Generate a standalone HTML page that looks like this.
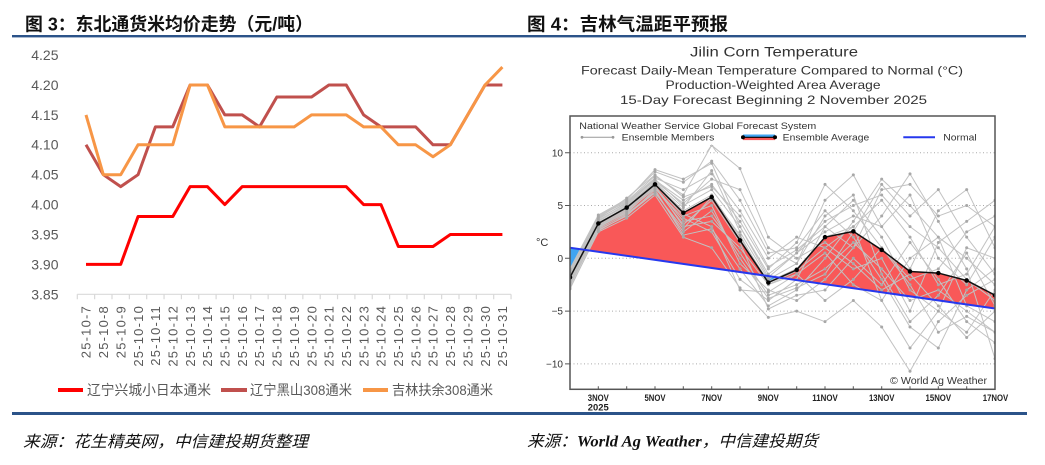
<!DOCTYPE html>
<html><head><meta charset="utf-8">
<style>
html,body{margin:0;padding:0;background:#fff;}
body{width:1045px;height:465px;overflow:hidden;}
svg{display:block;}
.cjk{font-family:"Liberation Sans","Noto Sans CJK SC",sans-serif;}
.lat{font-family:"Liberation Sans",sans-serif;}
</style></head><body>
<svg width="1045" height="465" viewBox="0 0 1045 465" xmlns="http://www.w3.org/2000/svg">
<defs>
<clipPath id="pc"><rect x="570" y="116" width="425" height="273.3"/></clipPath>
</defs>
<rect width="1045" height="465" fill="#fff"/>

<!-- Titles -->
<text class="cjk" x="25" y="30.5" font-size="18" font-weight="bold" fill="#111" textLength="288" lengthAdjust="spacingAndGlyphs">图 3：东北通货米均价走势（元/吨）</text>
<text class="cjk" x="527" y="30.5" font-size="18" font-weight="bold" fill="#111" textLength="201" lengthAdjust="spacingAndGlyphs">图 4：吉林气温距平预报</text>

<!-- separator lines -->
<rect x="12" y="35" width="1014" height="2.4" fill="#2B5389"/>
<rect x="12" y="412" width="1015" height="3" fill="#2B5389"/>

<!-- ================= LEFT CHART ================= -->
<g class="lat" font-size="14" fill="#595959" text-anchor="end">
<text x="58.5" y="60">4.25</text>
<text x="58.5" y="89.9">4.20</text>
<text x="58.5" y="119.8">4.15</text>
<text x="58.5" y="149.7">4.10</text>
<text x="58.5" y="179.6">4.05</text>
<text x="58.5" y="209.5">4.00</text>
<text x="58.5" y="239.4">3.95</text>
<text x="58.5" y="269.4">3.90</text>
<text x="58.5" y="299.3">3.85</text>
</g>
<line x1="77.3" y1="294.3" x2="511" y2="294.3" stroke="#D9D9D9" stroke-width="1.2"/>
<path d="M77.3 294.3v5M94.65 294.3v5M112 294.3v5M129.35 294.3v5M146.7 294.3v5M164.05 294.3v5M181.4 294.3v5M198.75 294.3v5M216.1 294.3v5M233.45 294.3v5M250.8 294.3v5M268.15 294.3v5M285.5 294.3v5M302.85 294.3v5M320.2 294.3v5M337.55 294.3v5M354.9 294.3v5M372.25 294.3v5M389.6 294.3v5M406.95 294.3v5M424.3 294.3v5M441.65 294.3v5M459 294.3v5M476.35 294.3v5M493.7 294.3v5M511.05 294.3v5" stroke="#D9D9D9" stroke-width="1.2" fill="none"/>

<g class="lat" font-size="13" fill="#595959" text-anchor="end" letter-spacing="1.2">
<text transform="translate(90.7 305) rotate(-90)">25-10-7</text>
<text transform="translate(108.05 305) rotate(-90)">25-10-8</text>
<text transform="translate(125.4 305) rotate(-90)">25-10-9</text>
<text transform="translate(142.75 305) rotate(-90)">25-10-10</text>
<text transform="translate(160.1 305) rotate(-90)">25-10-11</text>
<text transform="translate(177.45 305) rotate(-90)">25-10-12</text>
<text transform="translate(194.8 305) rotate(-90)">25-10-13</text>
<text transform="translate(212.15 305) rotate(-90)">25-10-14</text>
<text transform="translate(229.5 305) rotate(-90)">25-10-15</text>
<text transform="translate(246.85 305) rotate(-90)">25-10-16</text>
<text transform="translate(264.2 305) rotate(-90)">25-10-17</text>
<text transform="translate(281.55 305) rotate(-90)">25-10-18</text>
<text transform="translate(298.9 305) rotate(-90)">25-10-19</text>
<text transform="translate(316.25 305) rotate(-90)">25-10-20</text>
<text transform="translate(333.6 305) rotate(-90)">25-10-21</text>
<text transform="translate(350.95 305) rotate(-90)">25-10-22</text>
<text transform="translate(368.3 305) rotate(-90)">25-10-23</text>
<text transform="translate(385.65 305) rotate(-90)">25-10-24</text>
<text transform="translate(403 305) rotate(-90)">25-10-25</text>
<text transform="translate(420.35 305) rotate(-90)">25-10-26</text>
<text transform="translate(437.7 305) rotate(-90)">25-10-27</text>
<text transform="translate(455.05 305) rotate(-90)">25-10-28</text>
<text transform="translate(472.4 305) rotate(-90)">25-10-29</text>
<text transform="translate(489.75 305) rotate(-90)">25-10-30</text>
<text transform="translate(507.1 305) rotate(-90)">25-10-31</text>
</g>

<g transform="translate(86 294.3) scale(17.35 -598)" fill="none" stroke-width="3" stroke-linejoin="round">
<polyline vector-effect="non-scaling-stroke" stroke="#FF0000" points="0,.05 1,.05 2,.05 3,.13 4,.13 5,.13 6,.18 7,.18 8,.15 9,.18 10,.18 11,.18 12,.18 13,.18 14,.18 15,.18 16,.15 17,.15 18,.08 19,.08 20,.08 21,.1 22,.1 23,.1 24,.1"/>
<polyline vector-effect="non-scaling-stroke" stroke="#C0504D" points="0,.25 1,.2 2,.18 3,.2 4,.28 5,.28 6,.35 7,.35 8,.3 9,.3 10,.28 11,.33 12,.33 13,.33 14,.35 15,.35 16,.3 17,.28 18,.28 19,.28 20,.25 21,.25 22,.3 23,.35 24,.35"/>
<polyline vector-effect="non-scaling-stroke" stroke="#F79646" points="0,.3 1,.2 2,.2 3,.25 4,.25 5,.25 6,.35 7,.35 8,.28 9,.28 10,.28 11,.28 12,.28 13,.3 14,.3 15,.3 16,.28 17,.28 18,.25 19,.25 20,.23 21,.25 22,.3 23,.35 24,.38"/>
</g>

<!-- left legend -->
<rect x="58" y="388" width="25" height="4" fill="#FF0000"/>
<rect x="221" y="388" width="26" height="4" fill="#C0504D"/>
<rect x="363" y="388" width="25" height="4" fill="#F79646"/>
<g class="cjk" font-size="14" fill="#595959">
<text x="87" y="395" textLength="124" lengthAdjust="spacingAndGlyphs">辽宁兴城小日本通米</text>
<text x="250" y="395" textLength="102" lengthAdjust="spacingAndGlyphs">辽宁黑山308通米</text>
<text x="392" y="395" textLength="101" lengthAdjust="spacingAndGlyphs">吉林扶余308通米</text>
</g>

<!-- ================= RIGHT CHART ================= -->
<g class="lat" fill="#333" text-anchor="middle">
<text x="774" y="56.5" font-size="13.5" textLength="168" lengthAdjust="spacingAndGlyphs">Jilin Corn Temperature</text>
<text x="772" y="74.5" font-size="12" textLength="382" lengthAdjust="spacingAndGlyphs">Forecast Daily-Mean Temperature Compared to Normal (°C)</text>
<text x="773" y="89" font-size="12" textLength="215" lengthAdjust="spacingAndGlyphs">Production-Weighted Area Average</text>
<text x="773.5" y="104" font-size="12" textLength="307" lengthAdjust="spacingAndGlyphs">15-Day Forecast Beginning 2 November 2025</text>
</g>

<!-- gridlines -->
<g stroke="#AAAAAA" stroke-width="1" stroke-dasharray="1 2.5">
<line x1="570" y1="152.7" x2="995" y2="152.7"/>
<line x1="570" y1="205.5" x2="995" y2="205.5"/>
<line x1="570" y1="258.3" x2="995" y2="258.3"/>
<line x1="570" y1="311.1" x2="995" y2="311.1"/>
<line x1="570" y1="363.9" x2="995" y2="363.9"/>
</g>

<g clip-path="url(#pc)">
<g transform="translate(570 258.3) scale(28.333 -10.56)">
<polygon fill="#F95858" points="0.511,0.804 1,3.3 2,4.8 3,7 4,4.3 5,5.8 6,1.7 6.829,-1.618"/>
<polygon fill="#F95858" points="7.39,-1.832 8,-1.1 9,2 10,2.55 11,0.8 12,-1.25 13,-1.4 14,-2.1 15,-3.5 15,-4.75"/>
<polygon fill="#3FA4F2" points="0,1 0,-1.8 0.511,0.804"/>
<polygon fill="#3FA4F2" points="6.829,-1.618 7,-2.3 7.39,-1.832"/>
<g fill="none" stroke="#C2C2C2" stroke-width="1" stroke-linejoin="round">
<polyline vector-effect="non-scaling-stroke" points="0,-1.5 1,3.8 2,5.2 3,7.5 4,5 5,6.5 6,3 7,-1.5 8,0.5 9,3.5 10,5 11,6 12,3 13,1 14,-2 15,-4"/>
<polyline vector-effect="non-scaling-stroke" points="0,-2.2 1,3 2,4.5 3,6.8 4,3.5 5,4 6,0.5 7,-3.5 8,-2.5 9,-1 10,1.5 11,-1 12,-4 13,-3 14,-5 15,-7"/>
<polyline vector-effect="non-scaling-stroke" points="0,-1 1,4.1 2,5.6 3,8.2 4,7.2 5,9.2 6,5.5 7,0.5 8,1 9,4.5 10,2 11,-2 12,-6.5 13,-8.5 14,-3 15,-1"/>
<polyline vector-effect="non-scaling-stroke" points="0,-2.5 1,2.7 2,4 3,6.5 4,2.2 5,2.8 6,-1 7,-4.5 8,-3 9,0 10,3.5 11,7.5 12,5 13,2 14,0 15,-2.5"/>
<polyline vector-effect="non-scaling-stroke" points="0,-1.8 1,3.5 2,5 3,7.2 4,4.8 5,8.3 6,2.5 7,-2 8,-0.5 9,5.5 10,7.9 11,3 12,-1 13,4.5 14,6.5 15,1"/>
<polyline vector-effect="non-scaling-stroke" points="0,-2 1,3.2 2,4.7 3,7 4,4 5,5 6,-0.5 7,-3 8,-4 9,-2 10,1 11,4 12,8 13,3.5 14,-1 15,-9.5"/>
<polyline vector-effect="non-scaling-stroke" points="0,-1.2 1,3.9 2,5.4 3,7.8 4,6 5,10.7 6,8.5 7,2 8,0 9,1.5 10,-0.5 11,-3 12,-1.5 13,-4.5 14,-7.5 15,-5"/>
<polyline vector-effect="non-scaling-stroke" points="0,-2.8 1,2.5 2,3.8 3,6 4,2 5,1 6,-2.8 7,-5.6 8,-5 9,-6 10,-4 11,-6.5 12,-10.7 13,-6 14,-3.5 15,-2"/>
<polyline vector-effect="non-scaling-stroke" points="0,-1.6 1,3.6 2,5.1 3,7.4 4,5.5 5,7 6,3.5 7,-1 8,1.5 9,7 10,4.5 11,1 12,-2 13,-1 14,2.5 15,4"/>
<polyline vector-effect="non-scaling-stroke" points="0,-2.1 1,3.1 2,4.6 3,6.9 4,3 5,3.5 6,1 7,-2.5 8,-1.5 9,0.5 10,-2.5 11,-4 12,0 13,2 14,-4.5 15,-6"/>
<polyline vector-effect="non-scaling-stroke" points="0,-1.9 1,3.3 2,4.9 3,7.1 4,4.5 5,6 6,2 7,-2.2 8,-1 9,2 10,3 11,5.5 12,2 13,-2.5 14,-1.5 15,3"/>
<polyline vector-effect="non-scaling-stroke" points="0,-2.3 1,2.9 2,4.4 3,6.6 4,3.8 5,2.5 6,-2 7,-4 8,-2 9,3 10,5.5 11,2 12,-3 13,-5 14,-7 15,-3"/>
<polyline vector-effect="non-scaling-stroke" points="0,-1.4 1,3.7 2,5.3 3,7.6 4,6.5 5,8 6,4.5 7,0 8,2 9,1 10,-1 11,0 12,-5 13,1.5 14,3.5 15,5.5"/>
<polyline vector-effect="non-scaling-stroke" points="0,-2.6 1,2.8 2,4.2 3,6.3 4,2.5 5,4.5 6,0 7,-3.8 8,-2.8 9,-1.5 10,2.5 11,7 12,4 13,6.5 14,2 15,-1.5"/>
<polyline vector-effect="non-scaling-stroke" points="0,-1.7 1,3.4 2,4.8 3,7.3 4,5.2 5,7.5 6,6.5 7,1 8,-0.5 9,4 10,6 11,-1.5 12,-6 13,-3.5 14,0.5 15,-4.5"/>
<polyline vector-effect="non-scaling-stroke" points="0,-2.4 1,3 2,4.3 3,6.7 4,3.2 5,5.5 6,1.5 7,-4.8 8,-3.5 9,-3 10,0 11,-2.5 12,1.5 13,-2 14,-6 15,-8"/>
<polyline vector-effect="non-scaling-stroke" points="0,-1.3 1,4 2,5.5 3,8.4 4,7.5 5,9 6,3 7,-1.8 8,0.5 9,2.5 10,4 11,3 12,6 13,0 14,-2.5 15,2"/>
<polyline vector-effect="non-scaling-stroke" points="0,-2 1,3.3 2,4.9 3,7 4,4.2 5,3 6,-3 7,-3.2 8,-1.5 9,-4 10,-2 11,1 12,-2.5 13,-7 14,-5.5 15,-7"/>
<polyline vector-effect="non-scaling-stroke" points="0,-2.9 1,2.6 2,4.1 3,6.2 4,2.8 5,5.8 6,2.2 7,-2.5 8,-1.2 9,1 10,3 11,-4 12,-8.5 13,-5 14,1 15,0"/>
<polyline vector-effect="non-scaling-stroke" points="0,-1.1 1,3.8 2,5.7 3,7.9 4,5.8 5,6.8 6,4 7,-0.8 8,0.8 9,3 10,1 11,6.5 12,7 13,4 14,5 15,3"/>
</g>
<path vector-effect="non-scaling-stroke" fill="none" stroke="#A8A8A8" stroke-width="3" stroke-linecap="round" d="M0 -1.5h.001M1 3.8h.001M2 5.2h.001M3 7.5h.001M4 5h.001M5 6.5h.001M6 3h.001M7 -1.5h.001M8 .5h.001M9 3.5h.001M10 5h.001M11 6h.001M12 3h.001M13 1h.001M14 -2h.001M15 -4h.001
M0 -2.2h.001M1 3h.001M2 4.5h.001M3 6.8h.001M4 3.5h.001M5 4h.001M6 .5h.001M7 -3.5h.001M8 -2.5h.001M9 -1h.001M10 1.5h.001M11 -1h.001M12 -4h.001M13 -3h.001M14 -5h.001M15 -7h.001
M0 -1h.001M1 4.1h.001M2 5.6h.001M3 8.2h.001M4 7.2h.001M5 9.2h.001M6 5.5h.001M7 .5h.001M8 1h.001M9 4.5h.001M10 2h.001M11 -2h.001M12 -6.5h.001M13 -8.5h.001M14 -3h.001M15 -1h.001
M0 -2.5h.001M1 2.7h.001M2 4h.001M3 6.5h.001M4 2.2h.001M5 2.8h.001M6 -1h.001M7 -4.5h.001M8 -3h.001M9 0h.001M10 3.5h.001M11 7.5h.001M12 5h.001M13 2h.001M14 0h.001M15 -2.5h.001
M0 -1.8h.001M1 3.5h.001M2 5h.001M3 7.2h.001M4 4.8h.001M5 8.3h.001M6 2.5h.001M7 -2h.001M8 -.5h.001M9 5.5h.001M10 7.9h.001M11 3h.001M12 -1h.001M13 4.5h.001M14 6.5h.001M15 1h.001
M0 -2h.001M1 3.2h.001M2 4.7h.001M3 7h.001M4 4h.001M5 5h.001M6 -.5h.001M7 -3h.001M8 -4h.001M9 -2h.001M10 1h.001M11 4h.001M12 8h.001M13 3.5h.001M14 -1h.001M15 -9.5h.001
M0 -1.2h.001M1 3.9h.001M2 5.4h.001M3 7.8h.001M4 6h.001M5 10.7h.001M6 8.5h.001M7 2h.001M8 0h.001M9 1.5h.001M10 -.5h.001M11 -3h.001M12 -1.5h.001M13 -4.5h.001M14 -7.5h.001M15 -5h.001
M0 -2.8h.001M1 2.5h.001M2 3.8h.001M3 6h.001M4 2h.001M5 1h.001M6 -2.8h.001M7 -5.6h.001M8 -5h.001M9 -6h.001M10 -4h.001M11 -6.5h.001M12 -10.7h.001M13 -6h.001M14 -3.5h.001M15 -2h.001
M0 -1.6h.001M1 3.6h.001M2 5.1h.001M3 7.4h.001M4 5.5h.001M5 7h.001M6 3.5h.001M7 -1h.001M8 1.5h.001M9 7h.001M10 4.5h.001M11 1h.001M12 -2h.001M13 -1h.001M14 2.5h.001M15 4h.001
M0 -2.1h.001M1 3.1h.001M2 4.6h.001M3 6.9h.001M4 3h.001M5 3.5h.001M6 1h.001M7 -2.5h.001M8 -1.5h.001M9 .5h.001M10 -2.5h.001M11 -4h.001M12 0h.001M13 2h.001M14 -4.5h.001M15 -6h.001
M0 -1.9h.001M1 3.3h.001M2 4.9h.001M3 7.1h.001M4 4.5h.001M5 6h.001M6 2h.001M7 -2.2h.001M8 -1h.001M9 2h.001M10 3h.001M11 5.5h.001M12 2h.001M13 -2.5h.001M14 -1.5h.001M15 3h.001
M0 -2.3h.001M1 2.9h.001M2 4.4h.001M3 6.6h.001M4 3.8h.001M5 2.5h.001M6 -2h.001M7 -4h.001M8 -2h.001M9 3h.001M10 5.5h.001M11 2h.001M12 -3h.001M13 -5h.001M14 -7h.001M15 -3h.001
M0 -1.4h.001M1 3.7h.001M2 5.3h.001M3 7.6h.001M4 6.5h.001M5 8h.001M6 4.5h.001M7 0h.001M8 2h.001M9 1h.001M10 -1h.001M11 0h.001M12 -5h.001M13 1.5h.001M14 3.5h.001M15 5.5h.001
M0 -2.6h.001M1 2.8h.001M2 4.2h.001M3 6.3h.001M4 2.5h.001M5 4.5h.001M6 0h.001M7 -3.8h.001M8 -2.8h.001M9 -1.5h.001M10 2.5h.001M11 7h.001M12 4h.001M13 6.5h.001M14 2h.001M15 -1.5h.001
M0 -1.7h.001M1 3.4h.001M2 4.8h.001M3 7.3h.001M4 5.2h.001M5 7.5h.001M6 6.5h.001M7 1h.001M8 -.5h.001M9 4h.001M10 6h.001M11 -1.5h.001M12 -6h.001M13 -3.5h.001M14 .5h.001M15 -4.5h.001
M0 -2.4h.001M1 3h.001M2 4.3h.001M3 6.7h.001M4 3.2h.001M5 5.5h.001M6 1.5h.001M7 -4.8h.001M8 -3.5h.001M9 -3h.001M10 0h.001M11 -2.5h.001M12 1.5h.001M13 -2h.001M14 -6h.001M15 -8h.001
M0 -1.3h.001M1 4h.001M2 5.5h.001M3 8.4h.001M4 7.5h.001M5 9h.001M6 3h.001M7 -1.8h.001M8 .5h.001M9 2.5h.001M10 4h.001M11 3h.001M12 6h.001M13 0h.001M14 -2.5h.001M15 2h.001
M0 -2h.001M1 3.3h.001M2 4.9h.001M3 7h.001M4 4.2h.001M5 3h.001M6 -3h.001M7 -3.2h.001M8 -1.5h.001M9 -4h.001M10 -2h.001M11 1h.001M12 -2.5h.001M13 -7h.001M14 -5.5h.001M15 -7h.001
M0 -2.9h.001M1 2.6h.001M2 4.1h.001M3 6.2h.001M4 2.8h.001M5 5.8h.001M6 2.2h.001M7 -2.5h.001M8 -1.2h.001M9 1h.001M10 3h.001M11 -4h.001M12 -8.5h.001M13 -5h.001M14 1h.001M15 0h.001
M0 -1.1h.001M1 3.8h.001M2 5.7h.001M3 7.9h.001M4 5.8h.001M5 6.8h.001M6 4h.001M7 -.8h.001M8 .8h.001M9 3h.001M10 1h.001M11 6.5h.001M12 7h.001M13 4h.001M14 5h.001M15 3h.001"/>
<polyline vector-effect="non-scaling-stroke" fill="none" stroke="#111" stroke-width="1.5" stroke-linejoin="round" points="0,-1.8 1,3.3 2,4.8 3,7 4,4.3 5,5.8 6,1.7 7,-2.3 8,-1.1 9,2 10,2.55 11,0.8 12,-1.25 13,-1.4 14,-2.1 15,-3.5"/>
<path vector-effect="non-scaling-stroke" fill="none" stroke="#000" stroke-width="4.5" stroke-linecap="round" d="M0 -1.8h.001M1 3.3h.001M2 4.8h.001M3 7h.001M4 4.3h.001M5 5.8h.001M6 1.7h.001M7 -2.3h.001M8 -1.1h.001M9 2h.001M10 2.55h.001M11 .8h.001M12 -1.25h.001M13 -1.4h.001M14 -2.1h.001M15 -3.5h.001"/>
<line vector-effect="non-scaling-stroke" x1="0" y1="1" x2="15" y2="-4.75" stroke="#2638EE" stroke-width="2"/>
</g>
</g>

<!-- plot frame -->
<rect x="570" y="116" width="425" height="273.3" fill="none" stroke="#555" stroke-width="1.5"/>

<!-- legend inside plot -->
<rect x="572" y="117" width="420" height="28" fill="#fff"/>
<g class="lat" fill="#333" font-size="9.5">
<text x="579.3" y="129" textLength="237" lengthAdjust="spacingAndGlyphs">National Weather Service Global Forecast System</text>
<text x="621.7" y="140.5" textLength="92.6" lengthAdjust="spacingAndGlyphs">Ensemble Members</text>
<text x="782.7" y="140.5" textLength="86.6" lengthAdjust="spacingAndGlyphs">Ensemble Average</text>
<text x="943.3" y="140.5" textLength="33.4" lengthAdjust="spacingAndGlyphs">Normal</text>
</g>
<line x1="582" y1="137.3" x2="613" y2="137.3" stroke="#999" stroke-width="1"/>
<circle cx="582" cy="137.3" r="1.4" fill="#999"/>
<circle cx="613" cy="137.3" r="1.4" fill="#999"/>
<rect x="743" y="134.5" width="32" height="2.8" fill="#3FA4F2"/>
<rect x="743" y="137.3" width="32" height="2.8" fill="#F95858"/>
<line x1="743" y1="137.3" x2="775" y2="137.3" stroke="#000" stroke-width="1.2"/>
<circle cx="743" cy="137.3" r="2" fill="#000"/>
<circle cx="775" cy="137.3" r="2" fill="#000"/>
<line x1="903.3" y1="137.3" x2="935" y2="137.3" stroke="#2638EE" stroke-width="2"/>

<!-- member spike visible into legend at 7NOV -->
<polyline points="707,152 711.7,145 716.5,152" fill="none" stroke="#C2C2C2" stroke-width="1"/>

<!-- y axis ticks & labels -->
<path d="M565 152.7h5M565 205.5h5M565 258.3h5M565 311.1h5M565 363.9h5" stroke="#555" stroke-width="1"/>
<g class="lat" font-size="10" fill="#333" text-anchor="end">
<text x="563" y="156.3">10</text>
<text x="563" y="209.1">5</text>
<text x="563" y="261.9">0</text>
<text x="563" y="314.7">−5</text>
<text x="563" y="367.5">−10</text>
</g>
<text class="lat" x="536" y="246" font-size="11" fill="#333">°C</text>

<!-- x minor ticks -->
<path d="M598.3 389.3v-3M626.7 389.3v-3M655 389.3v-3M683.3 389.3v-3M711.7 389.3v-3M740 389.3v-3M768.3 389.3v-3M796.7 389.3v-3M825 389.3v-3M853.3 389.3v-3M881.7 389.3v-3M910 389.3v-3M938.3 389.3v-3M966.7 389.3v-3" stroke="#555" stroke-width="1"/>
<g class="lat" font-size="9" font-weight="bold" fill="#222" text-anchor="middle">
<text x="598.3" y="401" textLength="21" lengthAdjust="spacingAndGlyphs">3NOV</text>
<text x="598.3" y="410.3" textLength="21" lengthAdjust="spacingAndGlyphs">2025</text>
<text x="655" y="401" textLength="21" lengthAdjust="spacingAndGlyphs">5NOV</text>
<text x="711.7" y="401" textLength="21" lengthAdjust="spacingAndGlyphs">7NOV</text>
<text x="768.3" y="401" textLength="21" lengthAdjust="spacingAndGlyphs">9NOV</text>
<text x="825" y="401" textLength="25.5" lengthAdjust="spacingAndGlyphs">11NOV</text>
<text x="881.7" y="401" textLength="25.5" lengthAdjust="spacingAndGlyphs">13NOV</text>
<text x="938.3" y="401" textLength="25.5" lengthAdjust="spacingAndGlyphs">15NOV</text>
<text x="995.5" y="401" textLength="25.5" lengthAdjust="spacingAndGlyphs">17NOV</text>
</g>
<text class="lat" x="890" y="384" font-size="10" fill="#333" textLength="97" lengthAdjust="spacingAndGlyphs">© World Ag Weather</text>

<!-- footers -->
<text x="23" y="447" font-size="16" font-style="italic" fill="#111" style="font-family:'Liberation Serif','Noto Sans CJK SC',sans-serif" textLength="285" lengthAdjust="spacingAndGlyphs">来源：花生精英网，中信建投期货整理</text>
<text x="527" y="446.5" font-size="16" font-style="italic" fill="#111" style="font-family:'Liberation Serif','Noto Sans CJK SC',serif" textLength="291" lengthAdjust="spacingAndGlyphs">来源：<tspan font-weight="bold">World Ag Weather</tspan>，中信建投期货</text>
</svg>
</body></html>
